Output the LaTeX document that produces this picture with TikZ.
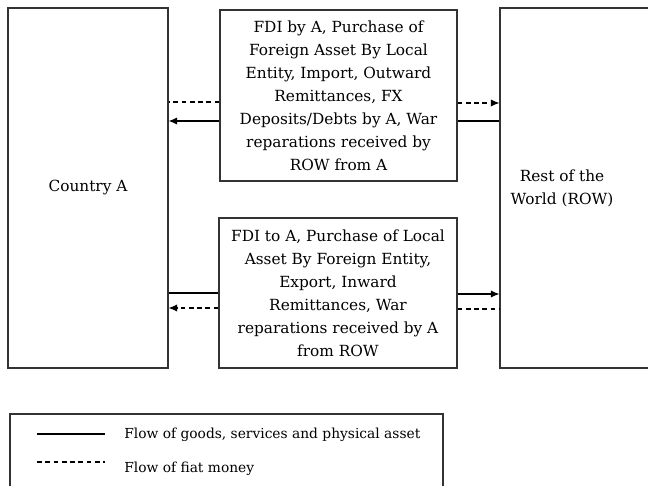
\documentclass[tikz,border=0pt]{standalone}
\usepackage{fontspec}
\setmainfont{DejaVu Serif}
\usetikzlibrary{arrows.meta}

\begin{document}
\begin{tikzpicture}
	[x=0.75pt,y=-0.75pt,
	 box/.style={draw=black!80,line width=0.8pt,rectangle,inner sep=0pt,align=center,
	   font=\fontsize{11.5}{17.25}\selectfont},
	 txt/.style={inner sep=0pt,align=center,font=\fontsize{11.5}{17.25}\selectfont},
	 keytxt/.style={inner sep=0pt,anchor=west,font=\fontsize{10.35}{12}\selectfont},
	 goodsedge/.style={-,line width=0.8pt,> = {Latex[length=6.5pt,width=5.5pt]}},
	 moneyedge/.style={-,line width=0.8pt,dash pattern=on 3.6pt off 2.6pt,> = {Latex[length=6.5pt,width=5.5pt]}},
	 goodsarrow/.style={goodsedge,->},
	 moneyarrow/.style={moneyedge,->}]
	\useasboundingbox (0,0) rectangle (648,485);

	\node[box,minimum width=120pt,minimum height=270pt] (cty) at (88,188) {Country A};
	\node[box,minimum width=120pt,minimum height=270pt] (row) at (580,188) {};
	\node[txt] (rowtxt) at (562,188) {Rest of the\\World (ROW)};

	\node[box,minimum width=177.75pt,minimum height=128.25pt] (out) at (338.5,95.5)
		{FDI by A, Purchase of\\Foreign Asset By Local\\Entity, Import, Outward\\Remittances, FX\\Deposits/Debts by A, War\\reparations received by\\ROW from A};
	\node[box,minimum width=178.5pt,minimum height=112.5pt] (in) at (338,293)
		{FDI to A, Purchase of Local\\Asset By Foreign Entity,\\Export, Inward\\Remittances, War\\reparations received by A\\from ROW};

	% flows between the boxes
	\foreach \from/\to/\y/\how in {out.west/cty.east/102/moneyedge, out.west/cty.east/121/goodsarrow,
		out.east/row.west/103/moneyarrow, out.east/row.west/121/goodsedge,
		in.west/cty.east/293/goodsedge, in.west/cty.east/308/moneyarrow,
		in.east/row.west/294/goodsarrow, in.east/row.west/309/moneyedge}
	\draw[\how] (\from |- 0,\y) -- (\to |- 0,\y);

	% legend
	\node[box,minimum width=324.75pt,minimum height=64.5pt] (key) at (226.5,457) {};
	\coordinate (k1) at (37,434);
	\coordinate (k2) at (105,434);
	\coordinate (k3) at (37,462);
	\coordinate (k4) at (105,462);
	\draw[goodsedge] (k1) -- (k2);
	\draw[moneyedge] (k3) -- (k4);
	\node[keytxt] (goodstxt) at (124,435) {Flow of goods, services and physical asset};
	\node[keytxt] (moneytxt) at (124,469) {Flow of fiat money};
\end{tikzpicture}
\end{document}
